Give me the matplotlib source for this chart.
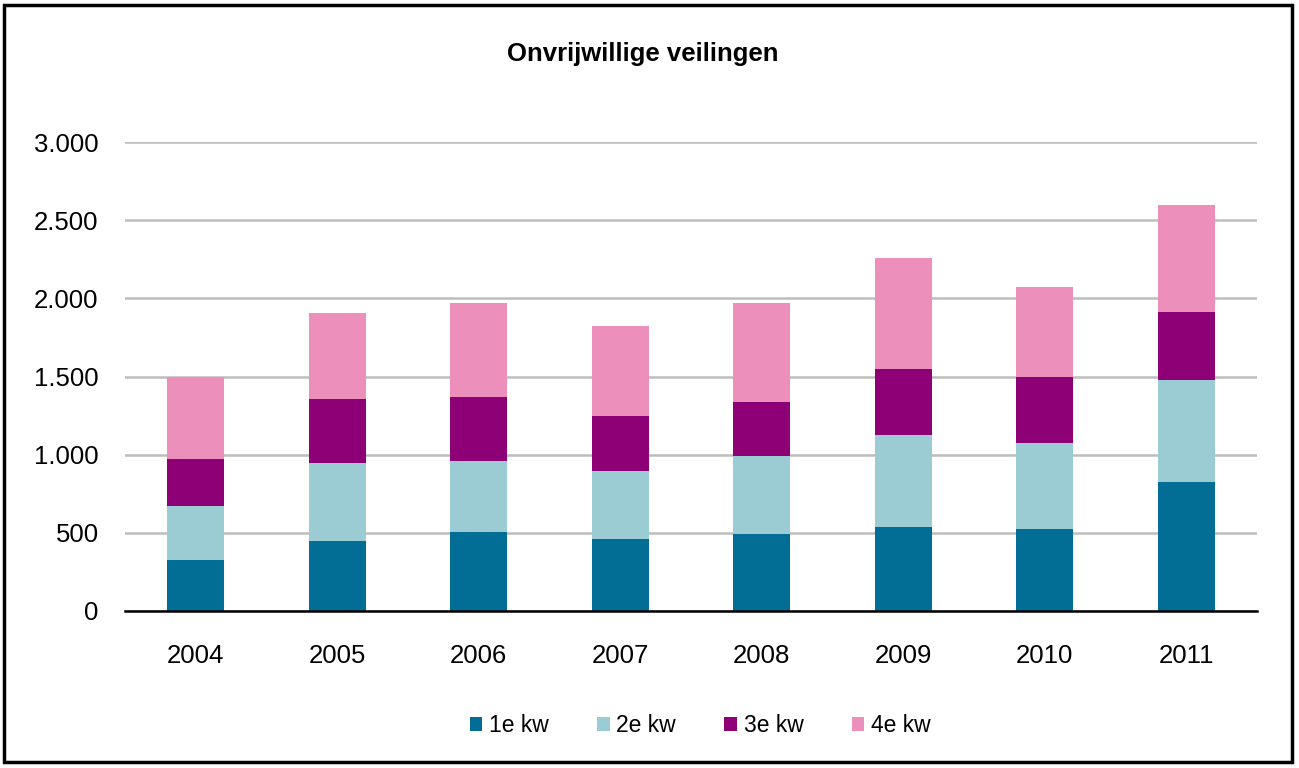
import numpy as np
import matplotlib.pyplot as plt
from matplotlib.patches import Patch, Rectangle

plt.rcParams["font.family"] = ["Liberation Sans", "DejaVu Sans"]

years = ["2004", "2005", "2006", "2007", "2008", "2009", "2010", "2011"]
kw1 = [325, 445, 505, 460, 492, 535, 525, 824]
kw2 = [345, 500, 452, 437, 497, 592, 551, 654]
kw3 = [305, 408, 410, 350, 348, 424, 419, 434]
kw4 = [522, 555, 603, 575, 630, 705, 580, 688]
series_labels = ["1e kw", "2e kw", "3e kw", "4e kw"]
y_ticks = [0, 500, 1000, 1500, 2000, 2500, 3000]
y_ticklabels = ["0", "500", "1.000", "1.500", "2.000", "2.500", "3.000"]

COLORS = ["#026E96", "#9CCCD3", "#8E0076", "#EC90BB"]

fig = plt.figure(figsize=(12.99, 7.68), dpi=100)
ax = fig.add_axes([125 / 1299, 157 / 768, 1132 / 1299, 469 / 768])

x = np.arange(len(years))
bottom = np.zeros(len(years))
for vals, color, label in zip([kw1, kw2, kw3, kw4], COLORS, series_labels):
    ax.bar(x, vals, width=0.4, bottom=bottom, color=color, label=label, zorder=3)
    bottom += np.array(vals)

ax.set_xlim(-0.5, len(years) - 0.5)
ax.set_ylim(0, 3000)
ax.set_yticks(y_ticks)
ax.set_yticklabels(y_ticklabels)
ax.set_xticks(x)
ax.set_xticklabels(years)
ax.tick_params(axis="both", length=0, labelsize=18.5, labelcolor="black")
ax.tick_params(axis="y", pad=19)
ax.tick_params(axis="x", pad=24)
ax.grid(axis="y", color="#BDBDBD", lw=1.8, zorder=0)
for side in ("top", "right", "left"):
    ax.spines[side].set_visible(False)
ax.spines["bottom"].set_color("black")
ax.spines["bottom"].set_linewidth(1.8)
ax.spines["bottom"].set_zorder(4)

fig.text(0.495, 0.93, "Onvrijwillige veilingen", ha="center", va="center",
         fontsize=18.5, fontweight="bold")

handles = [Patch(facecolor=c, edgecolor="none") for c in COLORS]
fig.legend(handles, series_labels, loc="center", bbox_to_anchor=(0.539, 0.055),
           ncol=4, frameon=False, fontsize=16.5, handlelength=0.55,
           handleheight=0.55, handletextpad=0.3, columnspacing=2.1)

fig.patches.append(Rectangle((4 / 1299, 6 / 768), 1288 / 1299, 757 / 768,
                             transform=fig.transFigure, fill=False,
                             edgecolor="black", lw=2.5))

fig.savefig("out.png", dpi=100)
